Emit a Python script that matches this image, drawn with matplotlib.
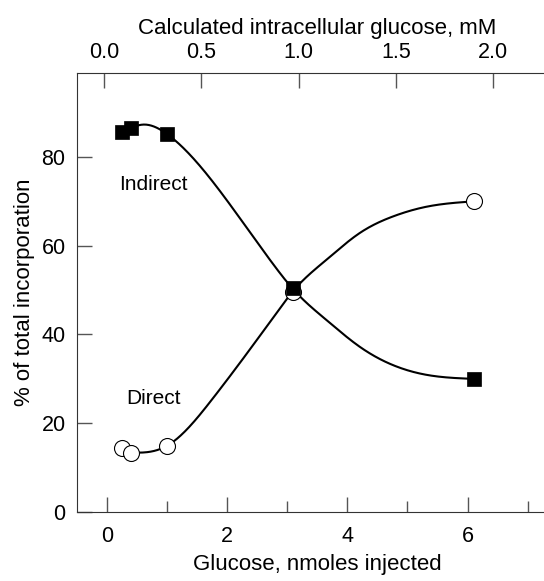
import numpy as np
import matplotlib
matplotlib.use("Agg")
import matplotlib.pyplot as plt
from matplotlib.ticker import MultipleLocator, FormatStrFormatter

plt.rcParams["font.family"] = ["Liberation Sans", "DejaVu Sans"]

# measured points (nmoles injected, % of total incorporation)
dose = [0.25, 0.4, 1.0, 3.1, 6.1]
indirect = [85.6, 86.6, 85.2, 50.4, 30.0]
direct = [14.4, 13.4, 14.9, 49.5, 70.0]

# fitted curves
fit_x = [0.4, 0.6, 1.0, 1.73, 2.82, 3.1, 3.65, 4.2, 4.76, 5.32, 6.1]
indirect_fit = [86.6, 87.3, 85.2, 75.0, 54.9, 50.2, 43.3, 37.3, 33.1, 30.9, 30.0]
direct_fit = [13.4, 13.4, 14.9, 25.0, 44.8, 49.8, 56.8, 62.8, 66.6, 68.8, 70.0]

X_TICKS = [0, 2, 4, 6]
Y_TICKS = [0, 20, 40, 60, 80]
TOP_TICKS = [0.0, 0.5, 1.0, 1.5, 2.0]


def smooth(xk, yk, n=400):
    # natural cubic spline, only for drawing the fitted line
    xk, yk = np.asarray(xk, float), np.asarray(yk, float)
    h = np.diff(xk); nk = len(xk)
    A = np.zeros((nk, nk)); r = np.zeros(nk)
    A[0, 0] = A[-1, -1] = 1
    for i in range(1, nk - 1):
        A[i, i - 1], A[i, i], A[i, i + 1] = h[i - 1], 2 * (h[i - 1] + h[i]), h[i]
        r[i] = 3 * ((yk[i + 1] - yk[i]) / h[i] - (yk[i] - yk[i - 1]) / h[i - 1])
    c = np.linalg.solve(A, r)
    b = (yk[1:] - yk[:-1]) / h - h * (2 * c[:-1] + c[1:]) / 3
    d = (c[1:] - c[:-1]) / (3 * h)
    xs = np.linspace(xk[0], xk[-1], n)
    i = np.clip(np.searchsorted(xk, xs) - 1, 0, nk - 2)
    dx = xs - xk[i]
    return xs, yk[i] + b[i] * dx + c[i] * dx ** 2 + d[i] * dx ** 3


SPINE, TICK = "#333333", "#555555"
fig = plt.figure(figsize=(5.44, 5.81), dpi=100)
ax = fig.add_axes([0.141, 0.1188, 0.8842, 0.7561])

for yk in (indirect_fit, direct_fit):
    xs, ys = smooth(fit_x, yk)
    ax.plot(xs, ys, color="black", lw=1.5, zorder=2)
ax.plot(dose, direct, "o", ms=11.5, mfc="white", mec="black", mew=0.8, zorder=3)
ax.plot(dose, indirect, "s", ms=9.5, mfc="black", mec="black", mew=0.5, zorder=4)

ax.text(0.2, 73.7, "Indirect", fontsize=15, ha="left", va="center")
ax.text(0.32, 25.5, "Direct", fontsize=15, ha="left", va="center")

ax.set_xlim(-0.5, 7.5)
ax.set_ylim(0, 99)
ax.set_xticks(X_TICKS)
ax.xaxis.set_minor_locator(MultipleLocator(1))
ax.set_yticks(Y_TICKS)
ax.tick_params(axis="both", which="major", direction="in", length=11, width=1,
               color=TICK, labelsize=15.5)
ax.tick_params(axis="x", which="minor", direction="in", length=8, width=1, color=TICK)
ax.tick_params(axis="x", pad=10)
ax.tick_params(axis="y", pad=8)
ax.set_xlabel("Glucose, nmoles injected", fontsize=16, labelpad=5)
ax.set_ylabel("% of total incorporation", fontsize=16, labelpad=5)
for s in ("left", "bottom"):
    ax.spines[s].set_color(SPINE)
ax.spines["right"].set_visible(False)
ax.spines["top"].set_visible(False)

# top axis: calculated intracellular glucose (mM)
top = ax.twiny()
lo, hi = ax.get_xlim()
top.set_xlim((lo + 0.045) / 3.2375, (hi + 0.045) / 3.2375)
top.set_xticks(TOP_TICKS)
top.xaxis.set_major_formatter(FormatStrFormatter("%.1f"))
top.tick_params(axis="x", direction="in", length=11, width=1, color=TICK,
                labelsize=15.5, pad=7)
top.set_xlabel("Calculated intracellular glucose, mM", fontsize=16, labelpad=6)
top.spines["top"].set_color(SPINE)
for s in ("left", "bottom", "right"):
    top.spines[s].set_visible(False)

fig.savefig("out.png", dpi=100)
